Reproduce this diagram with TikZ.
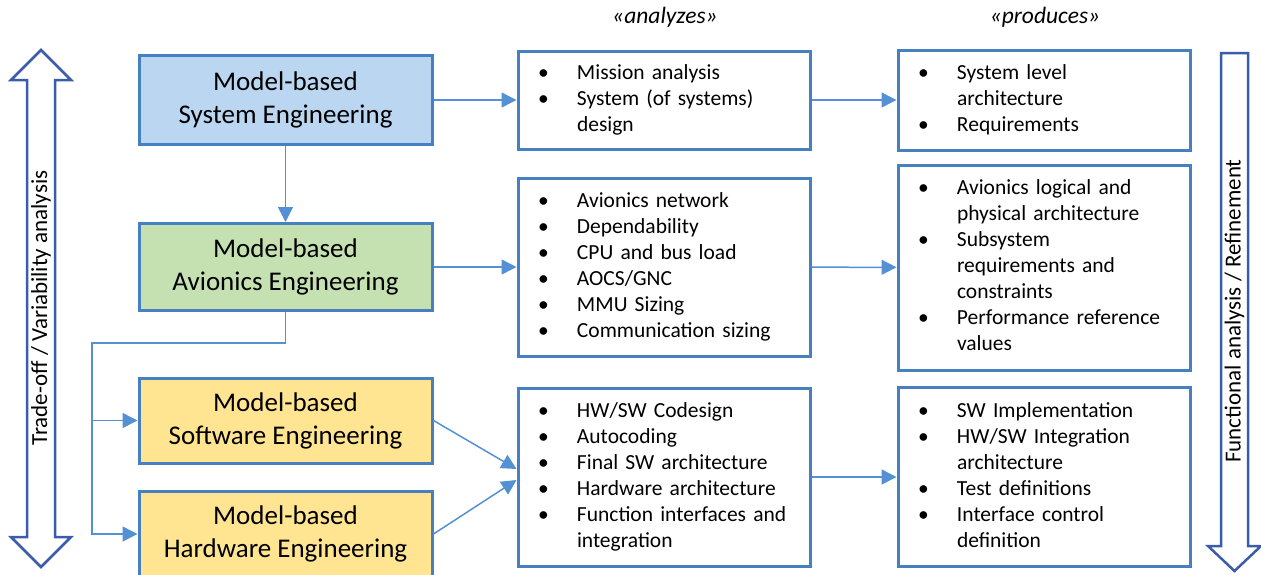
\documentclass[tikz,border=0pt]{standalone}
\usepackage{fontspec}
\setmainfont{Carlito}
\usetikzlibrary{arrows.meta}
\definecolor{boxblue}{RGB}{70,128,192}
\definecolor{linkblue}{RGB}{84,145,212}
\definecolor{arrowblue}{RGB}{58,92,170}
\definecolor{fillblue}{RGB}{186,214,240}
\definecolor{fillgreen}{RGB}{197,225,178}
\definecolor{fillyellow}{RGB}{255,229,145}
\newcommand{\bl}{\textbullet}

\begin{document}
\begin{tikzpicture}[x=1pt,y=-1pt,>={Triangle[length=15pt,width=15pt]}]
    \tikzstyle{every node}=[font=\fontsize{21.5}{26}\selectfont]
    \tikzstyle{mbox}=[draw=boxblue,line width=3pt,rectangle,minimum width=293pt,inner sep=0pt,align=center,font=\fontsize{27}{33}\selectfont]
    \tikzstyle{list}=[draw=boxblue,line width=3pt,rectangle,minimum width=292pt,text width=252pt,inner xsep=20pt,inner ysep=0pt,align=left]
    \tikzstyle{link}=[color=linkblue,line width=1.5pt]
    \tikzstyle{big}=[draw=arrowblue,line width=2.5pt,fill=white]
    \useasboundingbox (0,0) rectangle (1261,574);
    %% Big side arrows
    \draw[big] (41,50) -- (71,80) -- (55,80) -- (55,537) -- (71,537) -- (41,567) -- (11,537) -- (27,537) -- (27,80) -- (11,80) -- cycle;
    \node at (41,308) [rotate=90,font=\fontsize{23}{26}\selectfont] (TRADE) {Trade-off / Variability analysis};
    \draw[big] (1221,53) -- (1248,53) -- (1248,546) -- (1261,546) -- (1234.5,571) -- (1208,546) -- (1221,546) -- cycle;
    \node at (1234.5,311) [rotate=90,font=\fontsize{23}{26}\selectfont] (FUNC) {Functional analysis / Refinement};
    % headers
    \node at (665,17) [font=\fontsize{23.5}{26}\selectfont\itshape] (ANLAB) {«analyzes»};
    \node at (1045,17) [font=\fontsize{23.5}{26}\selectfont\itshape] (PRLAB) {«produces»};
    % System
    \node at (285.5,100) [mbox,fill=fillblue,minimum height=89pt] (MBSE) {Model-based\\System Engineering};
    \node at (664,100) [list,minimum height=98pt] (ANSYS) {\begin{tabular}{@{}p{39pt}@{}l@{}}
        \bl & Mission analysis\\ \bl & System (of systems)\\ & design\end{tabular}};
    \node at (1044,100) [list,minimum height=100pt] (PRSYS) {\begin{tabular}{@{}p{39pt}@{}l@{}}
        \bl & System level\\ & architecture\\ \bl & Requirements\end{tabular}};
    % Avionics
    \node at (285.5,267) [mbox,fill=fillgreen,minimum height=87pt] (MBAE) {Model-based\\Avionics Engineering};
    \node at (664,267) [list,minimum height=178pt] (ANAVI) {\begin{tabular}{@{}p{39pt}@{}l@{}}
        \bl & Avionics network\\ \bl & Dependability\\ \bl & CPU and bus load\\
        \bl & AOCS/GNC\\ \bl & MMU Sizing\\ \bl & Communication sizing\end{tabular}};
    \node at (1044,267.5) [list,minimum height=205pt] (PRAVI) {\begin{tabular}{@{}p{39pt}@{}l@{}}
        \bl & Avionics logical and\\ & physical architecture\\ \bl & Subsystem\\
        & requirements and\\ & constraints\\ \bl & Performance reference\\ & values\end{tabular}};
    % Software / Hardware
    \node at (285.5,420.5) [mbox,fill=fillyellow,minimum height=85pt] (MBSWE) {Model-based\\Software Engineering};
    \node at (285.5,534) [mbox,fill=fillyellow,minimum height=85pt] (MBHWE) {Model-based\\Hardware Engineering};
    \node at (664,477) [list,minimum height=178pt] (ANSW) {\begin{tabular}{@{}p{39pt}@{}l@{}}
        \bl & HW/SW Codesign\\ \bl & Autocoding\\ \bl & Final SW architecture\\
        \bl & Hardware architecture\\ \bl & Function interfaces and\\ & integration\end{tabular}};
    \node at (1044,477) [list,minimum height=179pt] (PRSW) {\begin{tabular}{@{}p{39pt}@{}l@{}}
        \bl & SW Implementation\\ \bl & HW/SW Integration\\ & architecture\\
        \bl & Test definitions\\ \bl & Interface control\\ & definition\end{tabular}};
    \coordinate (SPLIT) at (92,343);

    \path[link]
    (MBSE) edge [->] (ANSYS)
    (ANSYS) edge [->] (PRSYS)
    (MBSE) edge [->] (MBAE)
    (MBAE) edge [->] (ANAVI)
    (ANAVI) edge [->] (PRAVI)
    (MBSWE.east) edge [->] ([yshift=8pt]ANSW.west)
    (MBHWE.east) edge [->] ([yshift=-3pt]ANSW.west)
    (ANSW) edge [->] (PRSW);
    \draw[link,->] (MBAE.south) |- (SPLIT) |- (MBHWE.west);
    \draw[link,->] (SPLIT) |- (MBSWE.west);
\end{tikzpicture}
\end{document}
